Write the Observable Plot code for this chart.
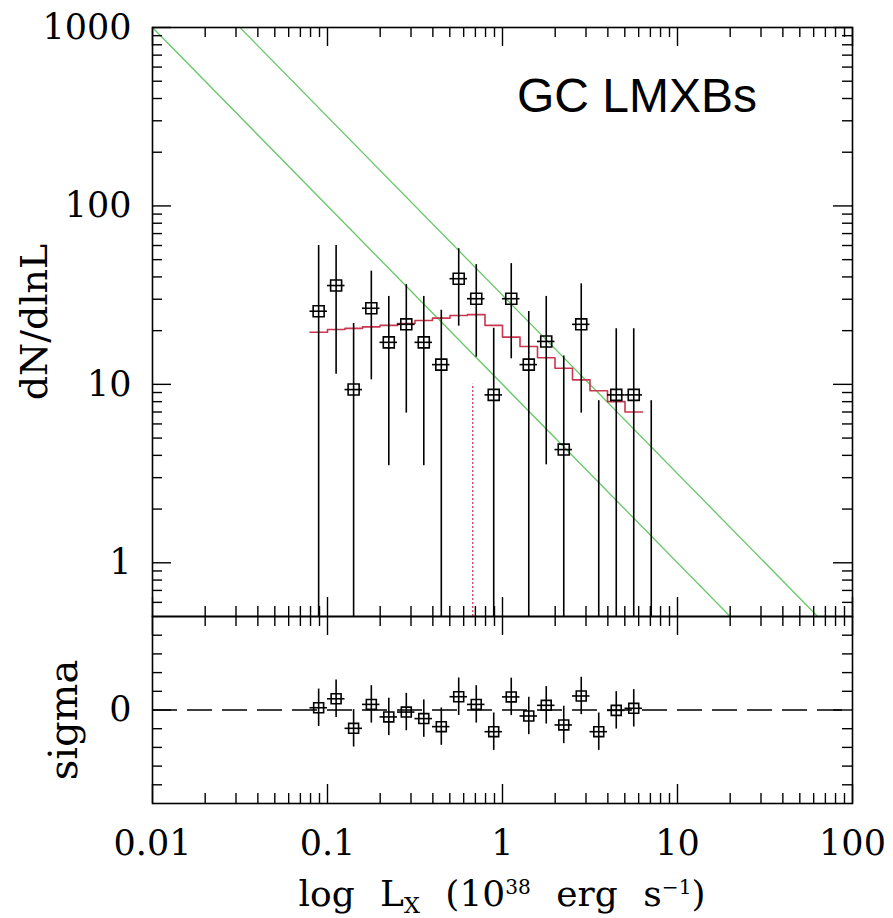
<!DOCTYPE html>
<html><head><meta charset="utf-8">
<script src="https://cdn.jsdelivr.net/npm/d3@7"></script>
<script src="https://cdn.jsdelivr.net/npm/@observablehq/plot@0.6"></script>
<style>
html,body{margin:0;padding:0;background:#fff;overflow:hidden;}
#wrap{position:relative;width:893px;height:918px;overflow:hidden;background:#fff;}
#top,#bot{position:absolute;left:0;}
#top{top:0px;}
#bot{top:614px;}
#top svg,#bot svg{overflow:visible;}
#xlabel{position:absolute;left:202px;width:600px;top:874px;text-align:center;font-family:"DejaVu Serif";font-size:36px;line-height:40px;word-spacing:14px;color:#000;white-space:nowrap;}
#xlabel .sub{font-size:0.62em;position:relative;top:0.3em;}
#xlabel .sup{font-size:0.56em;position:relative;top:-0.6em;}
</style></head>
<body>
<div id="wrap"><div id="top"></div><div id="bot"></div>
<div id="xlabel">log L<span class="sub">X</span> (10<span class="sup">38</span> erg s<span class="sup">−1</span>)</div>
</div>
<script>
// ---------- data ----------
const binCenters = [0.089, 0.112, 0.141, 0.178, 0.224, 0.282, 0.355, 0.447, 0.562, 0.708, 0.891, 1.122, 1.413, 1.778, 2.239, 2.818, 3.548, 4.467, 5.623, 7.079];
const binEdges = [0.0794, 0.1, 0.1259, 0.1585, 0.1995, 0.2512, 0.3162, 0.3981, 0.5012, 0.631, 0.7943, 1.0, 1.259, 1.585, 1.995, 2.512, 3.162, 3.981, 5.012, 6.31, 7.943];
const dNdlnL = [25.7, 35.8, 9.35, 26.7, 17.2, 21.7, 17.2, 12.9, 39.1, 30.2, 8.73, 30.2, 12.9, 17.4, 4.31, 21.7, 0, 8.73, 8.73, 0];
const errHi = [60.1, 60.1, 21.9, 43.1, 31.1, 36.3, 31.1, 26.0, 57.6, 46.9, 20.6, 47.5, 25.6, 31.1, 14.4, 36.6, 8.1, 20.5, 20.5, 8.1];
const errLo = [-8.7, 11.4, -3.2, 10.6, 3.5, 6.9, 3.5, -0.2, 21.2, 14.2, -3.1, 13.9, 0.2, 3.54, -5.8, 6.9, -8.1, -3.0, -3.0, -8.1];
const model = [19.6, 20.3, 20.6, 21.0, 21.4, 21.9, 22.8, 23.5, 24.3, 24.6, 21.4, 18.4, 16.3, 14.1, 12.3, 10.6, 9.2, 8.0, 7.0];
const sigma = [0.12, 0.60, -0.98, 0.30, -0.37, -0.11, -0.46, -0.89, 0.71, 0.30, -1.16, 0.70, -0.32, 0.25, -0.80, 0.75, -1.16, -0.02, 0.09];
const sigmaErr = 1;
const powerLawX = [0.01, 100];
const powerLawLowY = [1000, 0.1];
const powerLawHighY = [3160, 0.316];
const limitX = [0.676];
const limitY = [0.5, 10];
const xMajor = [0.01, 0.1, 1, 10, 100];
const xMinor = [0.02,0.03,0.04,0.05,0.06,0.07,0.08,0.09,0.2,0.3,0.4,0.5,0.6,0.7,0.8,0.9,2,3,4,5,6,7,8,9,20,30,40,50,60,70,80,90];
const yMajor = [1, 10, 100, 1000];
const yMinor = [0.6,0.7,0.8,0.9,2,3,4,5,6,7,8,9,20,30,40,50,60,70,80,90,200,300,400,500,600,700,800,900];
const sMajor = [0];
const sMinor = [-4,-3,-2,-1,1,2,3,4];
const xDomain = [0.01, 100];
const yDomain = [0.5, 1000];
const sDomain = [-5, 5];

// ---------- derived tables ----------
const pts = binCenters.map((x, i) => ({x, v: dNdlnL[i], hi: errHi[i], lo: Math.max(errLo[i], yDomain[0]), xl: binEdges[i], xh: binEdges[i+1]}));
const ptsVal = pts.filter(d => d.v > 0);
const stepData = model.map((m, i) => ({x: binEdges[i], y: m})).concat([{x: binEdges[model.length], y: model[model.length-1]}]);
const sPts = sigma.map((s, i) => ({x: binCenters[i], s, xl: binEdges[i], xh: binEdges[i+1]}));
const lowLine = powerLawX.map((x, i) => ({x, y: powerLawLowY[i]}));
const highLine = powerLawX.map((x, i) => ({x, y: powerLawHighY[i]}));

const W = 893, ML = 152, MR = 41, FW = W - ML - MR;
const serif = "DejaVu Serif";
const green = "#66c766", red = "#c8374f";
const lw = 1.4;
const MAJ = 19, MIN = 10;
const TF = 35;

// tick marks of fixed pixel length, drawn inward from the frame
function frameTicks(ys, FH, majorX, minorX, majorY, minorY) {
  const sx = d3.scaleLog(xDomain, [0, FW]);
  const yd = ys.domain();
  const marks = [];
  for (const [arr, len] of [[minorX, MIN], [majorX, MAJ]]) {
    marks.push(Plot.ruleX(arr, {x: d => d, y1: yd[0], y2: ys.invert(FH - len), stroke: "#000", strokeWidth: lw}));
    marks.push(Plot.ruleX(arr, {x: d => d, y1: yd[1], y2: ys.invert(len), stroke: "#000", strokeWidth: lw}));
  }
  for (const [arr, len] of [[minorY, MIN], [majorY, MAJ]]) {
    marks.push(Plot.ruleY(arr, {y: d => d, x1: xDomain[0], x2: sx.invert(len), stroke: "#000", strokeWidth: lw}));
    marks.push(Plot.ruleY(arr, {y: d => d, x1: xDomain[1], x2: sx.invert(FW - len), stroke: "#000", strokeWidth: lw}));
  }
  return marks;
}

// ---------- top panel ----------
const H1 = 618, MT1 = 27, MB1 = 2, FH1 = H1 - MT1 - MB1;
const sy1 = d3.scaleLog(yDomain, [FH1, 0]);
const topPlot = Plot.plot({
  width: W, height: H1, marginTop: MT1, marginBottom: MB1, marginLeft: ML, marginRight: MR,
  x: {type: "log", domain: xDomain, axis: null},
  y: {type: "log", domain: yDomain, axis: null},
  style: {background: "transparent", fontFamily: serif, color: "#000", overflow: "visible"},
  marks: [
    Plot.line(lowLine, {x: "x", y: "y", stroke: green, strokeWidth: 1.3, clip: true}),
    Plot.line(highLine, {x: "x", y: "y", stroke: green, strokeWidth: 1.3, clip: true}),
    Plot.ruleX(limitX, {x: d => d, y1: limitY[0], y2: limitY[1], stroke: "#d5476a", strokeWidth: 1.4, strokeDasharray: "2,2"}),
    Plot.line(stepData, {x: "x", y: "y", curve: "step-after", stroke: red, strokeWidth: 1.6}),
    Plot.ruleX(pts, {x: "x", y1: "lo", y2: "hi", stroke: "#000", strokeWidth: 1.6, clip: true}),
    Plot.ruleY(ptsVal, {y: "v", x1: "xl", x2: "xh", stroke: "#000", strokeWidth: 1.6}),
    Plot.dot(ptsVal, {x: "x", y: "v", symbol: "square", r: 6.2, stroke: "#000", fill: "none", strokeWidth: 1.6}),
    ...frameTicks(sy1, FH1, xMajor, xMinor, yMajor, yMinor),
    Plot.frame({stroke: "#000", strokeWidth: 1.6}),
    Plot.axisY({ticks: yMajor, tickSize: 0, tickPadding: 21, tickFormat: d => String(d), fontSize: TF, fontFamily: serif, label: null}),
    Plot.text(["dN/dlnL"], {frameAnchor: "left", textAnchor: "middle", lineAnchor: "bottom", dx: -106, rotate: -90, fontSize: 38, fontFamily: serif, fill: "#000"}),
    Plot.text(["GC LMXBs"], {x: [1.21], y: [336], textAnchor: "start", lineAnchor: "bottom", fontSize: 48, fontFamily: "Liberation Sans", fill: "#000"})
  ]
});
document.getElementById("top").appendChild(topPlot);

// ---------- bottom panel ----------
const H2 = 304, MT2 = 2, MB2 = 115, FH2 = H2 - MT2 - MB2;
const sy2 = d3.scaleLinear(sDomain, [FH2, 0]);
const botPlot = Plot.plot({
  width: W, height: H2, marginTop: MT2, marginBottom: MB2, marginLeft: ML, marginRight: MR,
  x: {type: "log", domain: xDomain, axis: null},
  y: {domain: sDomain, axis: null},
  style: {background: "transparent", fontFamily: serif, color: "#000", overflow: "visible"},
  marks: [
    Plot.ruleY([0], {stroke: "#000", strokeWidth: 1.4, strokeDasharray: "25,10"}),
    Plot.ruleX(sPts, {x: "x", y1: d => d.s - sigmaErr, y2: d => d.s + sigmaErr, stroke: "#000", strokeWidth: 1.6}),
    Plot.ruleY(sPts, {y: "s", x1: "xl", x2: "xh", stroke: "#000", strokeWidth: 1.6}),
    Plot.dot(sPts, {x: "x", y: "s", symbol: "square", r: 5.6, stroke: "#000", fill: "none", strokeWidth: 1.6}),
    ...frameTicks(sy2, FH2, xMajor, xMinor, sMajor, sMinor),
    Plot.frame({stroke: "#000", strokeWidth: 1.6}),
    Plot.axisY({ticks: sMajor, tickSize: 0, tickPadding: 21, tickFormat: d => String(d), fontSize: TF, fontFamily: serif, label: null}),
    Plot.axisX({ticks: xMajor, tickSize: 0, tickPadding: 27, tickFormat: d => String(d), fontSize: TF, fontFamily: serif, label: null}),
    Plot.text(["sigma"], {frameAnchor: "left", textAnchor: "middle", lineAnchor: "bottom", dx: -76, dy: 10, rotate: -90, fontSize: 40, fontFamily: serif, fill: "#000"})
  ]
});
document.getElementById("bot").appendChild(botPlot);
</script>
</body></html>
